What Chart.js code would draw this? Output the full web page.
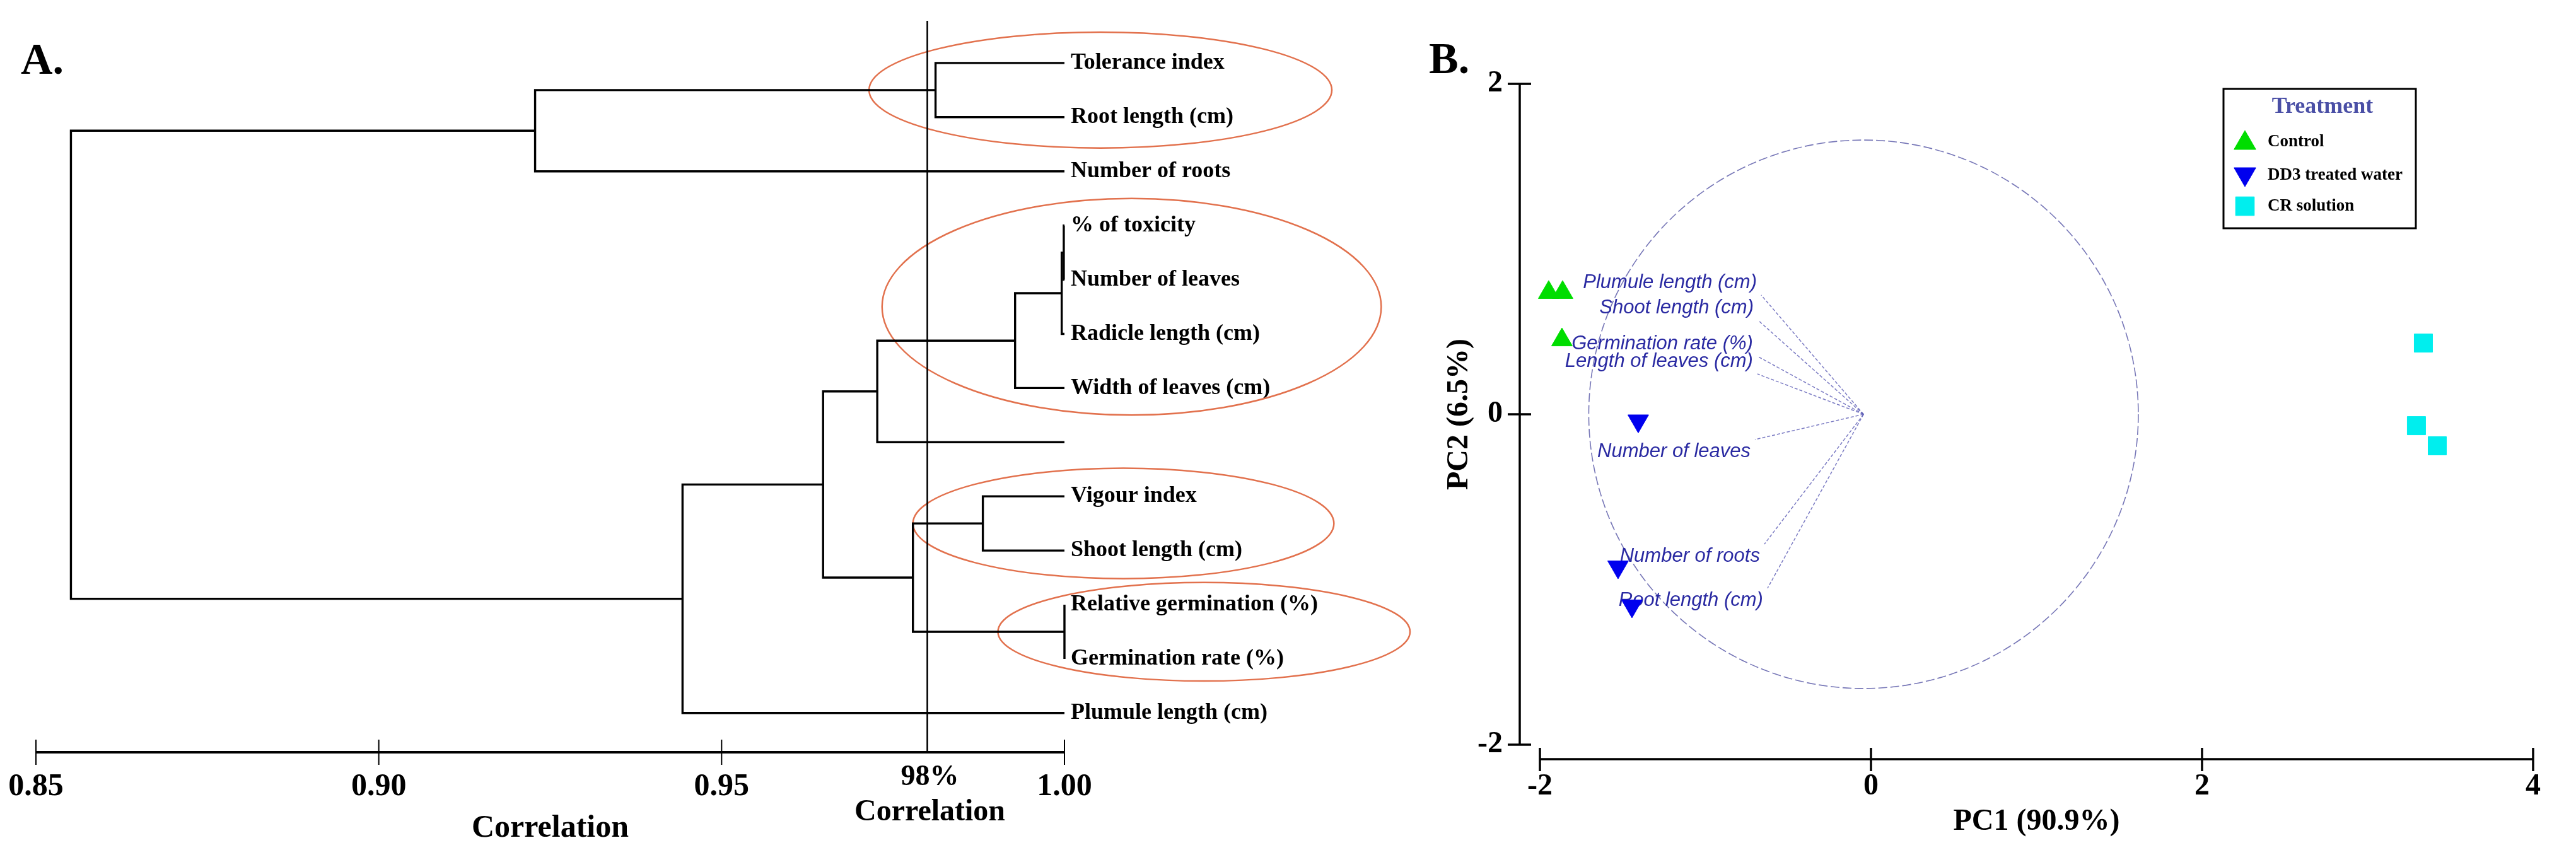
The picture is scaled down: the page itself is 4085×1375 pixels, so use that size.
<!DOCTYPE html>
<html>
<head>
<meta charset="utf-8">
<script src="https://cdn.jsdelivr.net/npm/chart.js@4.4.1/dist/chart.umd.min.js"></script>
<style>
html,body{margin:0;padding:0;background:#fff;}
#wrap{position:relative;width:4085px;height:1375px;background:#fff;overflow:hidden;}
#cA{position:absolute;left:0;top:0;width:2260px;height:1375px;}
#cB{position:absolute;left:2220px;top:0;width:1865px;height:1375px;}
</style>
</head>
<body>
<div id="wrap">
<canvas id="cA" width="2260" height="1375"></canvas>
<canvas id="cB" width="1865" height="1375"></canvas>
</div>
<script>
const SERIF = "'Liberation Serif','Times New Roman',serif";
const SANS = "'Liberation Sans',Arial,sans-serif";

// ---------- Panel A: dendrogram data ----------
const leafLabels = ['Tolerance index','Root length (cm)','Number of roots','% of toxicity','Number of leaves',
  'Radicle length (cm)','Width of leaves (cm)','','Vigour index','Shoot length (cm)',
  'Relative germination (%)','Germination rate (%)','Plumule length (cm)'];
// hclust-style merges: negative = leaf (-(index+1)), positive = earlier merge number (1-based)
const mergeLeft   = [-4, 1, -11, -1, 2, -9, 5, 6, 7, 4, 9, 10];
const mergeRight  = [-5, -6, -12, -2, -7, -10, -8, 3, 8, -3, -13, 11];
const mergeHeight = [0.9999, 0.9996, 1.0000, 0.9812, 0.9928, 0.9881, 0.9727, 0.9779, 0.9648, 0.9228, 0.9443, 0.8551];
const leafLevel = 1.00;
const cutLevel = 0.98;
const xTicksA = [0.85, 0.90, 0.95, 1.00];
// highlighted groups (leaf indices) with their horizontal extent in correlation units
const highlightGroups = [
  {leaves:[0,1], from:0.9715, to:1.0390, halfSpan:1.07},
  {leaves:[3,4,5,6], from:0.9734, to:1.0462, halfSpan:2.00},
  {leaves:[8,9], from:0.9779, to:1.0393, halfSpan:1.02},
  {leaves:[10,11], from:0.9903, to:1.0504, halfSpan:0.91}
];

// ---------- Panel B: PCA biplot data ----------
const controlPC1 = [-1.947, -1.863, -1.867];
const controlPC2 = [0.737, 0.737, 0.450];
const dd3PC1 = [-1.406, -1.528, -1.444];
const dd3PC2 = [-0.040, -0.924, -1.160];
const crPC1 = [3.337, 3.295, 3.421];
const crPC2 = [0.431, -0.069, -0.191];
const varNames = ['Plumule length (cm)','Shoot length (cm)','Germination rate (%)','Length of leaves (cm)',
  'Number of leaves','Number of roots','Root length (cm)'];
const varPC1 = [-0.663, -0.682, -0.686, -0.686, -0.701, -0.644, -0.625];
const varPC2 = [0.721, 0.569, 0.351, 0.244, -0.153, -0.786, -1.053];
const vecOrigin = [-0.045, 0.0];
const circleRadius = 1.66;
const xTicksB = [-2, 0, 2, 4];
const yTicksB = [-2, 0, 2];

// ---------- build dendrogram segments ----------
const nodePos = [];
const segments = [];
function posOf(id){ return id < 0 ? {x:leafLevel, y:-id-1} : nodePos[id-1]; }
mergeHeight.forEach((h,i)=>{
  const a = posOf(mergeLeft[i]), b = posOf(mergeRight[i]);
  nodePos.push({x:h, y:(a.y+b.y)/2});
  segments.push([{x:a.x,y:a.y},{x:h,y:a.y},{x:h,y:b.y},{x:b.x,y:b.y}]);
});
const yMinA = -1, yMaxA = 12.724;

const dsA = segments.map(pts=>({data:pts, showLine:true, borderColor:'#000', borderWidth:3.4,
  pointRadius:0, pointHoverRadius:0, fill:false, tension:0, clip:false}));
dsA.push({data:[{x:cutLevel,y:-0.78},{x:cutLevel,y:yMaxA}], showLine:true, borderColor:'#000',
  borderWidth:2.6, pointRadius:0, pointHoverRadius:0, fill:false, clip:false});

const dendroDecor = {
  id:'dendroDecor',
  beforeDatasetsDraw(chart){
    const {ctx, scales:{x,y}} = chart;
    ctx.save();
    ctx.strokeStyle = '#e2714d'; ctx.lineWidth = 2.5;
    highlightGroups.forEach(g=>{
      const c = (g.leaves[0] + g.leaves[g.leaves.length-1])/2;
      const x0 = x.getPixelForValue(g.from), x1 = x.getPixelForValue(g.to);
      const y0 = y.getPixelForValue(c - g.halfSpan), y1 = y.getPixelForValue(c + g.halfSpan);
      ctx.beginPath();
      ctx.ellipse((x0+x1)/2, (y0+y1)/2, Math.abs(x1-x0)/2, Math.abs(y1-y0)/2, 0, 0, Math.PI*2);
      ctx.stroke();
    });
    ctx.restore();
  },
  afterDraw(chart){
    const {ctx, chartArea, scales:{x}} = chart;
    ctx.save();
    const yb = chartArea.bottom;
    ctx.strokeStyle = '#000';
    ctx.lineWidth = 4;
    ctx.beginPath(); ctx.moveTo(x.getPixelForValue(xTicksA[0]), yb); ctx.lineTo(x.getPixelForValue(xTicksA[xTicksA.length-1]), yb); ctx.stroke();
    ctx.lineWidth = 2;
    xTicksA.forEach(v=>{ const px = x.getPixelForValue(v); ctx.beginPath(); ctx.moveTo(px, yb-20); ctx.lineTo(px, yb+20); ctx.stroke(); });
    const cx = x.getPixelForValue(cutLevel);
    ctx.fillStyle = '#000'; ctx.textAlign = 'center'; ctx.textBaseline = 'middle';
    ctx.font = `bold 46px ${SERIF}`;
    ctx.fillText(Math.round(cutLevel*100) + '%', cx+4, 1233);
    ctx.font = `bold 48px ${SERIF}`;
    ctx.fillText('Correlation', cx+4, 1289);
    ctx.textAlign = 'left'; ctx.textBaseline = 'alphabetic';
    ctx.font = `bold 70px ${SERIF}`;
    ctx.fillText('A.', 33, 117);
    ctx.restore();
  }
};

new Chart(document.getElementById('cA'), {
  type:'scatter',
  data:{datasets:dsA},
  options:{
    responsive:false, animation:false, devicePixelRatio:1, events:[],
    layout:{padding:{left:57, top:14, right:0, bottom:0}},
    plugins:{legend:{display:false}, tooltip:{enabled:false}},
    scales:{
      x:{type:'linear', position:'bottom', min:0.85, max:1.0,
        ticks:{stepSize:0.05, padding:25, color:'#000', font:{family:SERIF, size:50, weight:'bold'},
          callback:v=>Number(v).toFixed(2)},
        grid:{display:false, drawTicks:false}, border:{display:false},
        title:{display:true, text:'Correlation', color:'#000', font:{family:SERIF, size:50, weight:'bold'}, padding:{top:0, bottom:31}},
        afterFit:s=>{ s.height = 182; s.paddingLeft = 0; s.paddingRight = 0; }
      },
      y:{type:'linear', position:'right', reverse:true, min:yMinA, max:yMaxA,
        afterBuildTicks:s=>{ s.ticks = leafLabels.map((_,i)=>({value:i})); },
        ticks:{autoSkip:false, padding:10, color:'#000', font:{family:SERIF, size:36, weight:'bold'},
          callback:v=>leafLabels[v] ?? ''},
        grid:{display:false, drawTicks:false}, border:{display:false},
        afterFit:s=>{ s.width = 2260-1688; s.paddingTop = 0; s.paddingBottom = 0; }
      }
    }
  },
  plugins:[dendroDecor]
});

// ---------- Panel B ----------
const toPts = (xs, ys)=>xs.map((v,i)=>({x:v, y:ys[i]}));
const dsB = [
  {label:'Control', data:toPts(controlPC1, controlPC2), pointStyle:'triangle', pointRotation:0, pointRadius:19,
    pointBackgroundColor:'#00dd00', pointBorderColor:'#00dd00', backgroundColor:'#00dd00', borderColor:'#00dd00', pointBorderWidth:1, showLine:false, clip:false},
  {label:'DD3 treated water', data:toPts(dd3PC1, dd3PC2), pointStyle:'triangle', pointRotation:180, pointRadius:19,
    pointBackgroundColor:'#0000ee', pointBorderColor:'#0000ee', backgroundColor:'#0000ee', borderColor:'#0000ee', pointBorderWidth:1, showLine:false, clip:false},
  {label:'CR solution', data:toPts(crPC1, crPC2), pointStyle:'rect', pointRotation:0, pointRadius:20.5,
    pointBackgroundColor:'#00eeee', pointBorderColor:'#00eeee', backgroundColor:'#00eeee', borderColor:'#00eeee', pointBorderWidth:1, showLine:false, clip:false}
];

const biplotDecor = {
  id:'biplotDecor',
  beforeDatasetsDraw(chart){
    const {ctx, scales:{x,y}} = chart;
    const ox = x.getPixelForValue(vecOrigin[0]), oy = y.getPixelForValue(vecOrigin[1]);
    const rx = Math.abs(x.getPixelForValue(vecOrigin[0]+circleRadius) - ox);
    const ry = Math.abs(y.getPixelForValue(vecOrigin[1]+circleRadius) - oy);
    ctx.save();
    ctx.strokeStyle = 'rgba(95,95,170,0.85)'; ctx.lineWidth = 1.6; ctx.setLineDash([14,5]);
    ctx.beginPath(); ctx.ellipse(ox, oy, rx, ry, 0, 0, Math.PI*2); ctx.stroke();
    ctx.strokeStyle = 'rgba(90,90,180,0.8)'; ctx.lineWidth = 1.5; ctx.setLineDash([5,3]);
    varNames.forEach((n,i)=>{
      const tx = x.getPixelForValue(varPC1[i]), ty = y.getPixelForValue(varPC2[i]);
      ctx.beginPath(); ctx.moveTo(ox, oy); ctx.lineTo(tx, ty); ctx.stroke();
    });
    ctx.setLineDash([]);
    ctx.fillStyle = '#2a2aa2'; ctx.font = `italic 31px ${SANS}`;
    ctx.textAlign = 'right'; ctx.textBaseline = 'middle';
    varNames.forEach((n,i)=>{
      const tx = x.getPixelForValue(varPC1[i]), ty = y.getPixelForValue(varPC2[i]);
      ctx.fillText(n, tx-7, ty + (varPC2[i] > 0 ? -20 : 19));
    });
    ctx.restore();
  },
  afterDraw(chart){
    const {ctx, chartArea, scales:{x,y}} = chart;
    const H = Chart.helpers;
    ctx.save();
    ctx.strokeStyle = '#000'; ctx.lineWidth = 3.5;
    // y axis (offset to the left)
    const ax = chartArea.left - 32;
    ctx.beginPath(); ctx.moveTo(ax, y.getPixelForValue(yTicksB[yTicksB.length-1])); ctx.lineTo(ax, y.getPixelForValue(yTicksB[0])); ctx.stroke();
    yTicksB.forEach(v=>{ const py = y.getPixelForValue(v); ctx.beginPath(); ctx.moveTo(ax-19, py); ctx.lineTo(ax+18, py); ctx.stroke(); });
    // x axis (offset below)
    const ay = chartArea.bottom + 23;
    ctx.beginPath(); ctx.moveTo(x.getPixelForValue(xTicksB[0]), ay); ctx.lineTo(x.getPixelForValue(xTicksB[xTicksB.length-1]), ay); ctx.stroke();
    xTicksB.forEach(v=>{ const px = x.getPixelForValue(v); ctx.beginPath(); ctx.moveTo(px, ay-18); ctx.lineTo(px, ay+19); ctx.stroke(); });
    // legend box
    const L = {x0:1306, y0:141, x1:1611, y1:362};
    ctx.lineWidth = 3; ctx.strokeRect(L.x0, L.y0, L.x1-L.x0, L.y1-L.y0);
    ctx.textAlign = 'center'; ctx.textBaseline = 'middle';
    ctx.fillStyle = '#4a4fa6'; ctx.font = `bold 36px ${SERIF}`;
    ctx.fillText('Treatment', 1463, 170);
    const rowY = [227, 276, 327], textY = [225, 278, 327];
    ctx.textAlign = 'left'; ctx.font = `bold 27px ${SERIF}`;
    chart.data.datasets.forEach((d,i)=>{
      ctx.fillStyle = d.pointBackgroundColor; ctx.strokeStyle = d.pointBorderColor; ctx.lineWidth = 1;
      H.drawPoint(ctx, {pointStyle:d.pointStyle, rotation:d.pointRotation, radius:d.pointStyle==='rect'?21:20, borderWidth:1}, 1340, rowY[i]);
      ctx.fillStyle = '#000';
      ctx.fillText(d.label, 1376, textY[i]);
    });
    ctx.textBaseline = 'alphabetic';
    ctx.font = `bold 70px ${SERIF}`; ctx.fillStyle = '#000';
    ctx.fillText('B.', 46, 116);
    ctx.restore();
  }
};

new Chart(document.getElementById('cB'), {
  type:'scatter',
  data:{datasets:dsB},
  options:{
    responsive:false, animation:false, devicePixelRatio:1, events:[],
    layout:{padding:{left:0, top:133, right:68, bottom:0}},
    plugins:{legend:{display:false}, tooltip:{enabled:false}},
    scales:{
      x:{type:'linear', position:'bottom', min:-2, max:4,
        ticks:{stepSize:2, padding:38, color:'#000', font:{family:SERIF, size:48, weight:'bold'}},
        grid:{display:false, drawTicks:false}, border:{display:false},
        title:{display:true, text:'PC1 (90.9%)', color:'#000', font:{family:SERIF, size:48, weight:'bold'}, padding:{top:0, bottom:43}},
        afterFit:s=>{ s.height = 194; s.paddingLeft = 0; s.paddingRight = 0; }
      },
      y:{type:'linear', position:'left', min:-2, max:2,
        ticks:{stepSize:2, padding:59, color:'#000', font:{family:SERIF, size:48, weight:'bold'}},
        grid:{display:false, drawTicks:false}, border:{display:false},
        title:{display:true, text:'PC2 (6.5%)', color:'#000', font:{family:SERIF, size:48, weight:'bold'}, padding:{top:66, bottom:0}},
        afterFit:s=>{ s.width = 222; s.paddingTop = 0; s.paddingBottom = 0; }
      }
    }
  },
  plugins:[biplotDecor]
});
</script>
</body>
</html>
